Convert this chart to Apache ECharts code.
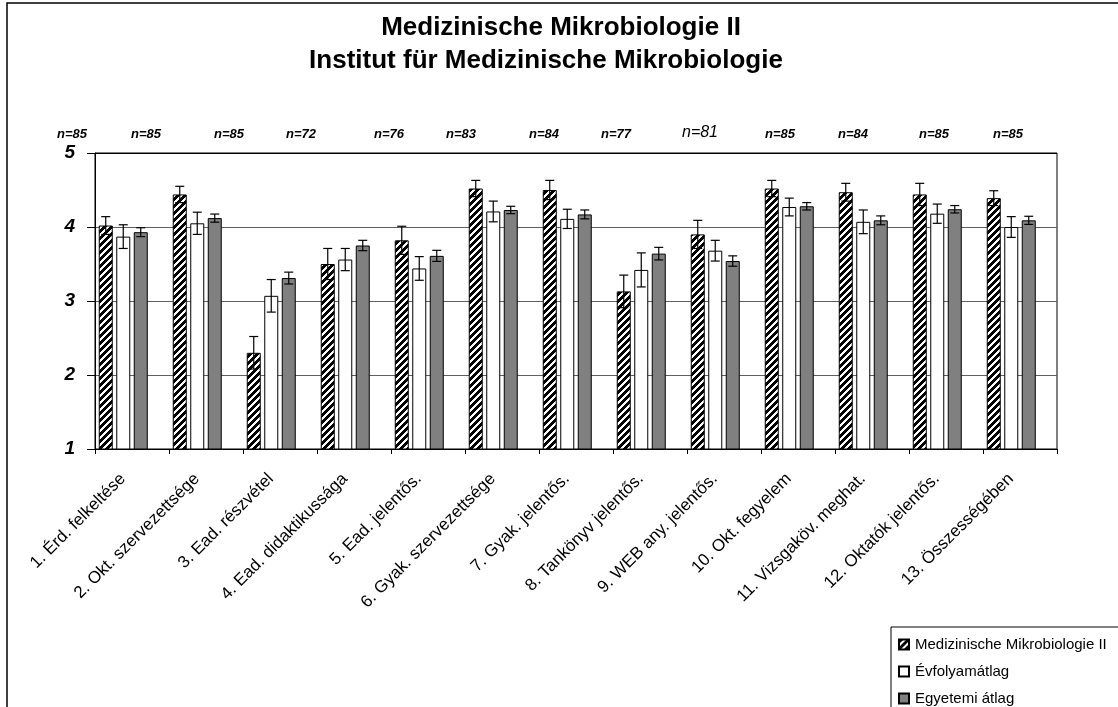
<!DOCTYPE html>
<html>
<head>
<meta charset="utf-8">
<script src="https://cdn.jsdelivr.net/npm/echarts@6/dist/echarts.min.js"></script>
<style>
html,body{margin:0;padding:0;background:#fff;}
#chart{width:1118px;height:707px;}
</style>
</head>
<body>
<div id="chart"></div>
<script>
// ---------- DATA ----------
const categories = [
  "1. Érd. felkeltése", "2. Okt. szervezettsége", "3. Ead. részvétel",
  "4. Ead. didaktikussága", "5. Ead. jelentős.", "6. Gyak. szervezettsége",
  "7. Gyak. jelentős.", "8. Tankönyv jelentős.", "9. WEB any. jelentős.",
  "10. Okt. fegyelem", "11. Vizsgaköv. meghat.", "12. Oktatók jelentős.",
  "13. Összességében"
];
const seriesNames = ["Medizinische Mikrobiologie II", "Évfolyamátlag", "Egyetemi átlag"];
const mikroValues = [4.02, 4.44, 2.30, 3.50, 3.82, 4.52, 4.50, 3.13, 3.90, 4.52, 4.47, 4.44, 4.39];
const mikroErr    = [0.12, 0.11, 0.22, 0.21, 0.19, 0.11, 0.13, 0.22, 0.19, 0.11, 0.12, 0.15, 0.10];
const evfValues   = [3.87, 4.05, 3.07, 3.56, 3.44, 4.21, 4.11, 3.42, 3.68, 4.27, 4.07, 4.18, 4.00];
const evfErr      = [0.16, 0.15, 0.22, 0.15, 0.16, 0.14, 0.13, 0.23, 0.14, 0.12, 0.16, 0.13, 0.14];
const egyValues   = [3.93, 4.12, 3.31, 3.75, 3.61, 4.23, 4.17, 3.64, 3.54, 4.28, 4.09, 4.24, 4.09];
const egyErr      = [0.06, 0.055, 0.08, 0.07, 0.075, 0.05, 0.06, 0.085, 0.07, 0.05, 0.06, 0.05, 0.055];
const nLabels = ["n=85","n=85","n=85","n=72","n=76","n=83","n=84","n=77","n=81","n=85","n=84","n=85","n=85"];
const yTicks = [1, 2, 3, 4, 5];
const titleLines = ["Medizinische Mikrobiologie II", "Institut für Medizinische Mikrobiologie"];

// ---------- LAYOUT / STYLE ----------
const nLabelCenters = [72, 146, 229, 301, 389, 461, 544, 616, 700, 780, 853, 934, 1008];
const FONT = '"Liberation Sans", Arial, sans-serif';
const BAR_W = 14, BAR_GAP = 3.5, STEP = BAR_W + BAR_GAP;

function makeHatch() {
  const p = 7, c = document.createElement('canvas');
  c.width = p; c.height = p;
  const ctx = c.getContext('2d');
  ctx.fillStyle = '#fff'; ctx.fillRect(0, 0, p, p);
  ctx.fillStyle = '#000';
  for (let y = 0; y < p; y++) for (let x = 0; x < p; x++) {
    if ((x + y) % p < 4) ctx.fillRect(x, y, 1, 1);
  }
  return c;
}
const hatch = { image: makeHatch(), repeat: 'repeat' };

function barSeries(name, values, fill) {
  return {
    type: 'bar', name: name, data: values, barWidth: BAR_W,
    barGap: (BAR_GAP / BAR_W * 100) + '%',
    itemStyle: { color: fill, borderColor: '#000', borderWidth: 1 },
    z: 2
  };
}
function errSeries(name, values, errs, k) {
  return {
    type: 'custom', name: name + ' (hiba)', silent: true, z: 10,
    encode: { x: 0, y: 1 },
    data: values.map((v, i) => [i, v, errs[i]]),
    renderItem: function (params, api) {
      const ci = api.value(0), v = api.value(1), e = api.value(2);
      const x = api.coord([ci, v])[0] + (k - 1.5) * STEP;
      const yt = api.coord([ci, v + e])[1];
      const yb = api.coord([ci, v - e])[1];
      const hw = 4.5;
      const st = { stroke: '#000', lineWidth: 1.2 };
      return { type: 'group', children: [
        { type: 'line', shape: { x1: x, y1: yt, x2: x, y2: yb }, style: st },
        { type: 'line', shape: { x1: x - hw, y1: yt, x2: x + hw, y2: yt }, style: st },
        { type: 'line', shape: { x1: x - hw, y1: yb, x2: x + hw, y2: yb }, style: st }
      ]};
    }
  };
}

const graphics = [
  { type: 'rect', shape: { x: 7, y: 3, width: 1300, height: 900 },
    style: { fill: 'none', stroke: '#000', lineWidth: 1.5 }, z: 0, silent: true },
  { type: 'rect', shape: { x: 891, y: 627, width: 400, height: 200 },
    style: { fill: '#fff', stroke: '#000', lineWidth: 1 }, z: 1, silent: true },
  { type: 'text', x: 561, y: 28, style: { text: titleLines[0], font: 'bold 26px ' + FONT,
      fill: '#000', align: 'center', verticalAlign: 'middle', textAlign: 'center', textVerticalAlign: 'middle' } },
  { type: 'text', x: 546, y: 61, style: { text: titleLines[1], font: 'bold 26px ' + FONT,
      fill: '#000', align: 'center', verticalAlign: 'middle', textAlign: 'center', textVerticalAlign: 'middle' } }
];
nLabels.forEach((t, i) => {
  const special = (i === 8);
  graphics.push({ type: 'text', x: nLabelCenters[i], y: special ? 133 : 134,
    style: { text: t, font: (special ? 'italic 16px ' : 'italic bold 13px ') + FONT, fill: '#000',
      align: 'center', verticalAlign: 'middle', textAlign: 'center', textVerticalAlign: 'middle' } });
});

const chart = echarts.init(document.getElementById('chart'), null, { renderer: 'canvas' });
chart.setOption({
  animation: false,
  backgroundColor: '#fff',
  textStyle: { fontFamily: FONT },
  grid: { left: 95, right: 61, top: 153, bottom: 258, show: true, borderColor: '#000', borderWidth: 1, backgroundColor: 'transparent' },
  legend: {
    data: seriesNames, orient: 'vertical', left: 898, top: 637, height: 120, width: 220,
    padding: 0, itemGap: 12, itemWidth: 10, itemHeight: 10, icon: 'rect', z: 5,
    textStyle: { fontSize: 15, color: '#000', fontFamily: FONT, padding: [0, 0, 0, 1] }
  },
  xAxis: {
    type: 'category', data: categories, boundaryGap: true,
    axisLine: { show: true, lineStyle: { color: '#000', width: 1 } },
    axisTick: { show: true, alignWithLabel: false, length: 5, lineStyle: { color: '#000' } },
    axisLabel: { rotate: 45, interval: 0, fontSize: 17, color: '#000', margin: 18, padding: [0, 13, 0, 0], fontFamily: FONT },
    splitLine: { show: false }
  },
  yAxis: {
    type: 'value', min: yTicks[0], max: yTicks[yTicks.length - 1], interval: 1,
    axisLine: { show: true, lineStyle: { color: '#000', width: 1 } },
    axisTick: { show: true, inside: false, length: 8, lineStyle: { color: '#000' } },
    axisLabel: { fontSize: 19, fontWeight: 'bold', fontStyle: 'italic', color: '#000', margin: 20, fontFamily: FONT },
    splitLine: { show: true, lineStyle: { color: ['#000', '#606060', '#606060', '#606060', '#000'], width: 1 } }
  },
  series: [
    barSeries(seriesNames[0], mikroValues, hatch),
    barSeries(seriesNames[1], evfValues, '#ffffff'),
    barSeries(seriesNames[2], egyValues, '#808080'),
    { type: 'bar', name: '_spacer', data: categories.map(() => '-'), barWidth: BAR_W,
      barGap: (BAR_GAP / BAR_W * 100) + '%', itemStyle: { color: 'transparent' }, silent: true },
    errSeries(seriesNames[0], mikroValues, mikroErr, 0),
    errSeries(seriesNames[1], evfValues, evfErr, 1),
    errSeries(seriesNames[2], egyValues, egyErr, 2)
  ],
  graphic: graphics
});
</script>
</body>
</html>
